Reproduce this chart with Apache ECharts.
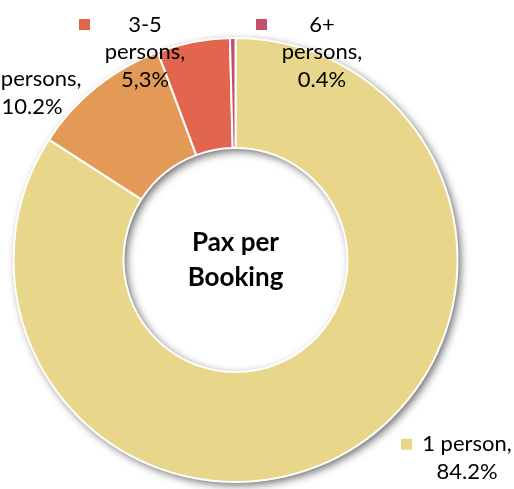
<!DOCTYPE html>
<html><head><meta charset="utf-8">
<script src="https://cdn.jsdelivr.net/npm/echarts@6/dist/echarts.min.js"></script>
<style>html,body{margin:0;padding:0;background:#fff}#c{width:514px;height:489px}</style>
</head><body><div id="c"></div>
<script>
const categories = ['1 person', '2 persons', '3-5 persons', '6+ persons'];
const shares = [84.2, 10.2, 5.3, 0.4];
const shareLabels = ['84.2%', '10.2%', '5,3%', '0.4%'];
const headLines = [['1 person,'], ['2 persons,'], ['3-5', 'persons,'], ['6+', 'persons,']];
const centerTitle = ['Pax per', 'Booking'];

const colors = ['#E8D68A', '#E39A57', '#E2654E', '#C4506A'];
const labelAnchors = [[467, 458], [32, 93], [145, 52], [322, 52]];
const FONT = 'Lato';

const rich = {
  t: { width: 110, align: 'center', fontSize: 22, lineHeight: 27.5, fontFamily: FONT, color: '#000' },
  pad: { width: 11, height: 11, align: 'right' },
  n: { align: 'center', fontSize: 22, lineHeight: 27.5, fontFamily: FONT, color: '#000' }
};
colors.forEach((c, i) => {
  rich['sq' + i] = { width: 11, height: 11, backgroundColor: c, align: 'left', lineHeight: 27.5 };
});

const chart = echarts.init(document.getElementById('c'), null, { renderer: 'canvas' });
chart.setOption({
  animation: false,
  backgroundColor: '#fff',
  series: [
    {
      type: 'pie',
      z: 1,
      silent: true,
      center: [235.5, 260],
      radius: [112, 222],
      itemStyle: {
        color: '#fff',
        shadowBlur: 9,
        shadowColor: 'rgba(0,0,0,0.6)',
        shadowOffsetX: 3,
        shadowOffsetY: 3
      },
      label: {
        show: true,
        position: 'center',
        formatter: centerTitle.join('\n'),
        fontFamily: FONT,
        fontWeight: 'bold',
        fontSize: 26,
        lineHeight: 35,
        color: '#000'
      },
      labelLine: { show: false },
      data: [{ value: 1, name: 'ring' }]
    },
    {
      type: 'pie',
      z: 2,
      center: [235.5, 260],
      radius: [112, 222],
      startAngle: 90,
      clockwise: true,
      avoidLabelOverlap: false,
      itemStyle: { borderColor: '#fff', borderWidth: 2 },
      label: {
        show: true,
        position: 'inside',
        color: '#000',
        fontFamily: FONT,
        fontSize: 22,
        lineHeight: 27.5,
        align: 'center',
        formatter: function (p) {
          const i = p.dataIndex;
          const h = headLines[i];
          let s = '{sq' + i + '|}{t|' + h[0] + '}{pad|}';
          for (let k = 1; k < h.length; k++) s += '\n{n|' + h[k] + '}';
          s += '\n{n|' + shareLabels[i] + '}';
          return s;
        },
        rich: rich
      },
      labelLine: { show: false },
      labelLayout: function (params) {
        const a = labelAnchors[params.dataIndex];
        return { x: a[0], y: a[1], align: 'center', verticalAlign: 'middle' };
      },
      data: categories.map((c, i) => ({ name: c, value: shares[i], itemStyle: { color: colors[i] } }))
    }
  ]
});
</script>
</body></html>
